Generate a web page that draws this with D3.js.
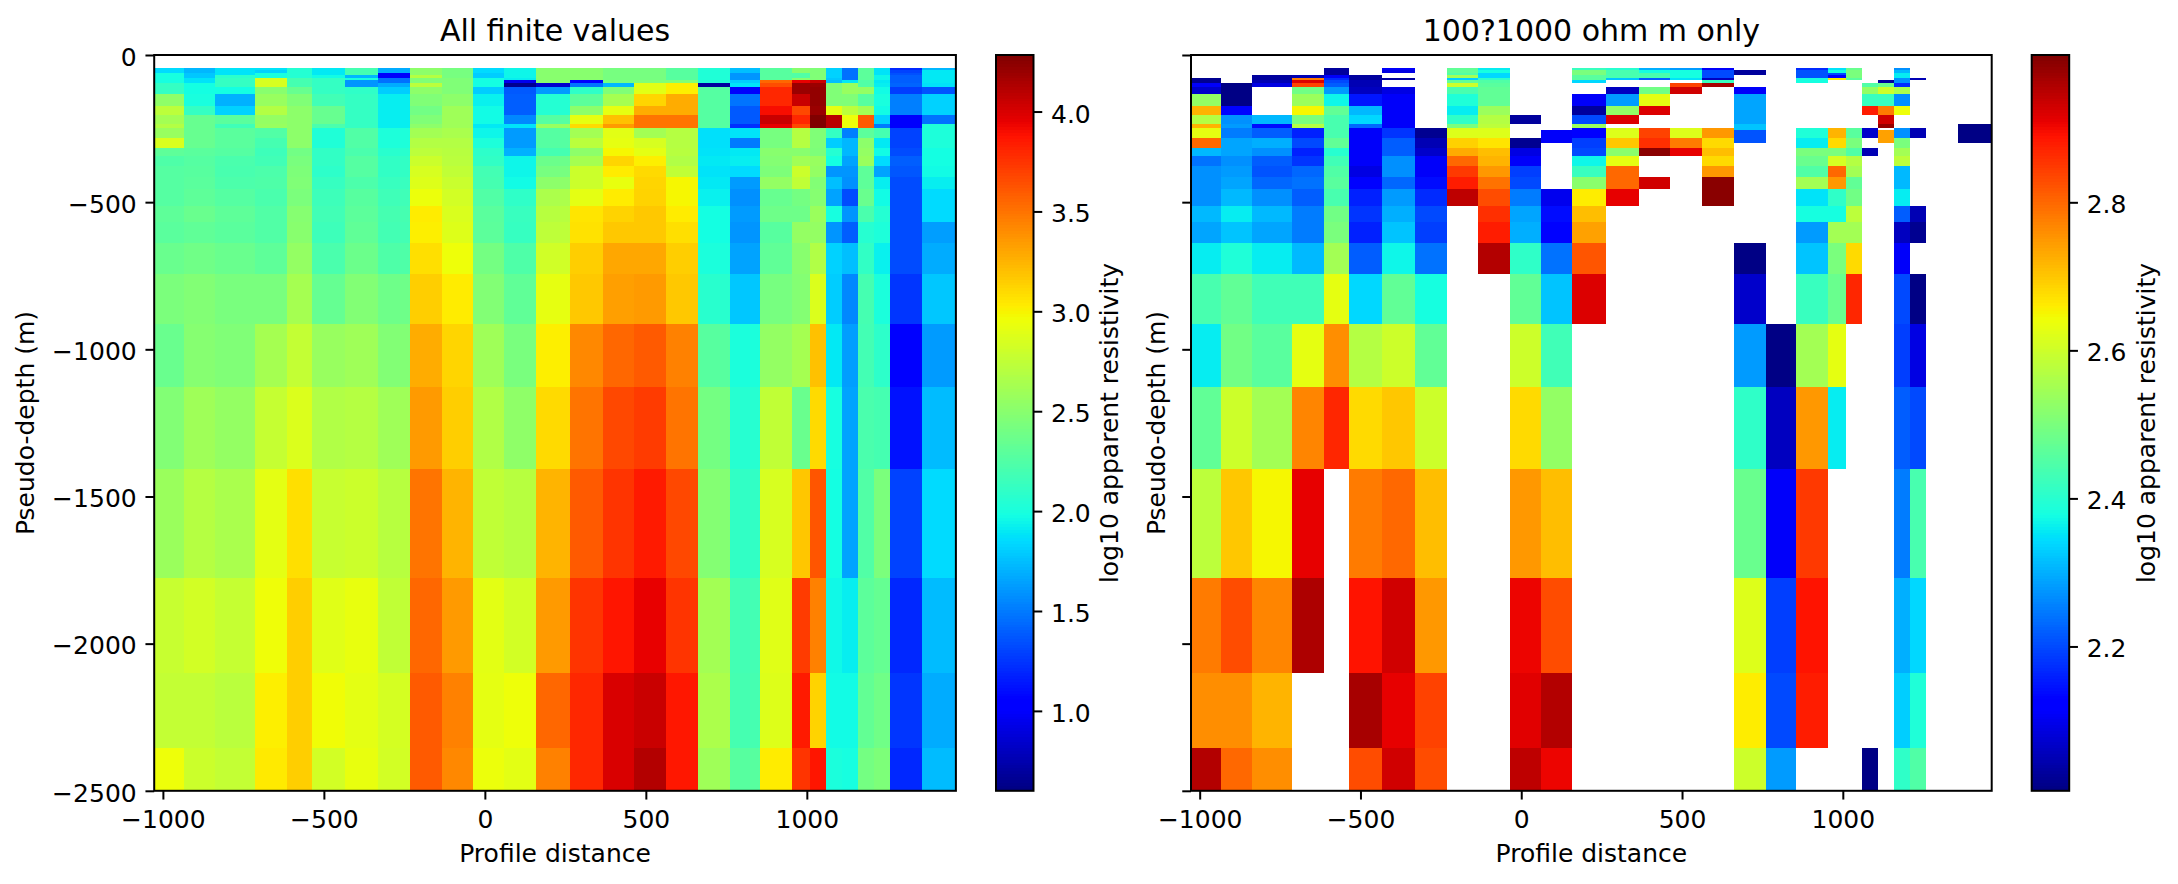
<!DOCTYPE html>
<html>
<head>
<meta charset="utf-8">
<script src="https://cdn.jsdelivr.net/npm/d3@7"></script>
<style>
body { margin: 0; background: #fff; }
text { font-family: "DejaVu Sans", sans-serif; fill: #000; }
</style>
</head>
<body>
<div id="chart"></div>
<script>
const width = 2178;
const height = 884;
const _ = null;

const xEdges = [-1027, -934, -837, -713, -614, -537, -434, -331, -232, -133, -36, 60, 159, 265, 367, 463, 563, 662, 762, 855, 954, 1010, 1060, 1109, 1159, 1209, 1259, 1358, 1463];
const depthEdges = [-44, -51, -61, -68, -78, -85, -95, -109, -133, -173, -204, -234, -248, -255, -282, -299, -316, -343, -377, -415, -455, -513, -567, -639, -744, -914, -1128, -1407, -1777, -2100, -2355, -2500];

const xTicks = [-1000, -500, 0, 500, 1000];
const yTicks = [0, -500, -1000, -1500, -2000, -2500];
const cbarTicksAll = [1, 1.5, 2, 2.5, 3, 3.5, 4];
const cbarTicksBand = [2.2, 2.4, 2.6, 2.8];

const rangeAll = [0.6, 4.283];
const rangeBand = [2.005, 2.999];

// shallow part (16 rows), one list per profile column, left panel
const topAll = [
    [1.85,1.85,1.99,1.99,1.99,1.99,2.12,2.12,2.53,2.73,2.62,2.69,2.57,2.57,2.86,2.86],
    [1.72,1.72,1.78,1.78,1.88,1.88,1.98,1.98,2.0,2.12,2.35,2.35,2.35,2.35,2.35,2.35],
    [1.88,1.88,1.88,2.08,2.12,2.12,2.12,1.98,1.7,1.82,2.29,2.17,2.29,2.29,2.29,2.29],
    [1.88,1.82,2.0,2.0,2.85,2.85,2.85,2.5,2.57,2.69,2.55,2.57,2.25,2.25,2.2,2.2],
    [2.05,2.05,2.05,2.05,2.2,2.2,2.2,2.35,2.46,2.52,2.52,2.52,2.52,2.52,2.52,2.52],
    [1.9,1.9,1.9,1.97,2.12,2.12,2.12,2.12,2.18,2.35,2.35,2.22,2.03,2.03,2.03,2.03],
    [2.2,2.2,2.2,1.72,2.0,1.6,1.6,2.1,2.12,2.12,2.12,2.12,2.25,2.25,2.25,2.25],
    [1.68,1.68,1.0,1.0,1.47,1.47,1.68,1.8,1.92,1.92,1.92,1.92,2.02,2.02,2.02,2.02],
    [2.52,2.52,2.52,2.7,2.46,2.46,2.73,2.52,2.46,2.4,2.46,2.52,2.62,2.62,2.69,2.69],
    [2.42,2.42,2.42,2.42,2.46,2.46,2.46,2.46,2.52,2.6,2.6,2.6,2.65,2.65,2.69,2.69],
    [1.85,1.85,1.8,1.8,1.98,1.98,1.98,1.8,1.93,1.97,1.97,1.9,1.95,1.95,2.02,2.02],
    [1.95,1.95,1.95,1.95,1.92,0.95,0.65,1.38,1.4,1.4,1.55,1.88,1.62,1.62,1.62,1.62],
    [2.5,2.5,2.5,2.5,2.5,2.5,0.85,1.62,2.05,2.05,2.27,2.57,2.27,2.27,2.27,2.27],
    [2.5,2.5,2.5,2.5,2.5,1.02,1.48,2.1,2.3,2.52,2.92,3.1,2.62,2.62,2.72,2.72],
    [2.42,2.42,2.42,2.42,2.42,2.42,1.72,2.46,2.63,2.92,3.2,3.35,2.9,2.9,2.92,2.92],
    [2.42,2.42,2.42,2.42,2.42,2.46,2.9,2.9,3.12,3.28,3.5,3.5,2.62,2.62,2.85,2.85],
    [2.28,2.28,2.28,2.28,2.28,2.46,3.02,3.02,3.28,3.28,3.5,3.5,2.7,2.7,2.7,2.7],
    [2.03,2.03,2.03,2.03,2.03,2.03,0.7,2.27,2.27,2.27,2.27,2.27,1.87,1.87,1.87,1.87],
    [1.75,1.75,1.6,1.6,1.6,1.8,1.88,1.0,1.48,1.38,1.38,1.23,1.88,1.88,1.5,1.5],
    [2.28,2.28,2.28,2.28,2.28,3.55,3.65,3.8,3.8,3.9,4.05,3.95,2.42,2.42,2.42,2.42],
    [2.5,2.5,2.25,2.25,2.5,3.95,4.2,4.2,4.05,3.67,3.8,3.67,2.7,2.7,2.7,2.7],
    [2.46,2.46,2.46,2.46,2.46,4.05,4.2,4.22,4.22,4.2,4.28,4.28,2.46,2.46,2.46,2.46],
    [1.82,1.82,1.82,1.82,1.78,1.75,2.46,2.46,2.46,2.92,4.1,4.1,2.12,2.12,1.8,1.8],
    [1.47,1.47,1.47,1.47,1.47,1.9,2.57,2.57,2.46,2.73,2.95,2.95,1.52,1.52,1.72,1.72],
    [2.3,2.3,2.3,2.3,2.3,2.25,2.25,2.55,2.28,2.62,3.6,3.6,2.3,2.3,2.52,2.52],
    [1.88,1.88,1.88,1.95,1.95,1.9,1.92,1.97,2.0,1.97,1.82,1.5,2.2,2.2,1.9,1.9],
    [1.2,1.3,1.35,1.4,1.4,1.4,1.42,1.28,1.52,1.52,1.0,1.0,1.3,1.3,1.3,1.3],
    [1.72,1.9,1.9,1.9,1.9,1.9,1.88,1.36,1.82,1.82,1.47,2.03,2.02,2.02,2.02,2.02]
];

// same 16 rows, right panel (blank cells are null)
const topBand = [
    [_,_,_,_,2.02,2.02,2.11,2.07,2.53,2.72,2.57,2.72,2.63,2.63,2.8,2.8],
    [_,_,_,_,_,_,2.01,2.01,2.01,2.13,2.27,2.28,2.25,2.25,2.29,2.29],
    [_,_,_,2.03,2.03,2.05,2.09,_,_,_,2.31,2.14,2.22,2.22,2.3,2.3],
    [_,_,_,2.05,2.78,2.92,2.84,2.49,2.54,2.65,2.5,2.57,2.16,2.16,2.2,2.2],
    [2.03,2.03,2.03,2.11,2.17,2.2,2.22,2.28,2.37,2.47,2.44,2.44,2.44,2.44,2.47,2.47],
    [_,_,_,2.03,2.03,2.05,2.05,2.06,2.15,2.31,2.34,2.23,2.11,2.11,2.11,2.11],
    [2.11,2.09,_,_,2.03,_,_,2.09,2.11,2.11,2.11,2.11,2.18,2.18,2.22,2.22],
    [_,_,_,_,_,_,_,_,_,_,_,_,2.02,2.02,2.05,2.05],
    [2.47,2.47,2.45,2.55,2.33,2.47,2.6,2.44,2.39,2.36,2.41,2.5,2.62,2.62,2.69,2.69],
    [2.36,2.38,2.34,2.34,2.41,2.45,2.46,2.47,2.47,2.54,2.57,2.58,2.62,2.62,2.67,2.67],
    [_,_,_,_,_,_,_,_,_,_,2.03,_,_,_,2.02,2.02],
    [_,_,_,_,_,_,_,_,_,_,_,_,_,2.11,2.11,_],
    [2.42,2.5,2.5,2.46,2.46,2.34,_,_,2.11,2.03,2.2,2.54,2.12,2.12,2.19,2.19],
    [2.4,2.44,2.44,2.44,2.32,_,_,2.06,2.28,2.53,2.92,_,2.62,2.62,2.7,2.7],
    [2.3,2.38,2.44,2.44,2.22,_,_,2.49,2.63,2.92,_,_,2.84,2.84,2.86,2.86],
    [2.28,2.38,2.38,2.38,2.35,_,2.84,2.93,_,_,_,_,2.62,2.62,2.78,2.78],
    [2.11,2.2,2.2,2.2,2.06,2.42,2.965,_,_,_,_,_,2.75,2.75,2.68,2.68],
    [_,2.03,2.03,_,_,_,_,2.11,2.29,2.29,2.29,2.32,2.32,2.21,2.21,_],
    [_,_,_,_,_,_,_,_,_,_,_,_,_,_,_,_],
    [2.17,2.21,2.21,2.21,2.38,2.38,_,_,_,_,_,_,2.39,2.39,2.36,2.36],
    [2.35,2.38,2.2,2.13,2.66,_,_,_,_,_,_,_,2.72,2.72,2.68,2.68],
    [2.48,2.5,2.5,2.5,2.46,_,_,_,_,_,_,_,2.46,2.46,2.5,2.5],
    [_,_,_,_,_,_,2.45,2.53,2.42,2.88,_,_,2.07,2.07,_,_],
    [_,_,_,_,_,2.03,2.48,2.6,2.42,2.78,2.93,2.98,_,2.74,2.74,_],
    [2.27,2.31,2.36,2.36,2.27,2.27,2.17,2.56,2.27,2.64,_,_,2.27,2.27,2.5,2.5],
    [_,_,_,_,2.05,_,_,_,_,_,_,_,2.05,2.05,_,_],
    [_,_,_,_,_,_,_,_,_,_,_,_,_,_,_,_],
    [_,_,_,_,_,_,_,_,_,_,_,2.01,2.01,2.01,2.01,_]
];

// deeper rows, one list per depth row, shared by both panels
const deepRows = [
    [2.31,2.29,2.27,2.16,2.4,2.11,2.22,2.07,2.73,2.71,2.09,1.7,2.2,2.52,2.99,2.91,2.71,1.88,1.9,2.5,2.5,2.45,2.05,1.72,2.55,1.97,1.33,1.98],
    [2.24,2.27,2.22,2.18,2.43,2.11,2.27,2.11,2.8,2.72,2.11,1.95,2.37,2.63,3.12,3.02,2.68,1.9,1.92,2.48,2.61,2.57,1.98,1.65,2.58,1.85,1.4,1.98],
    [2.27,2.28,2.21,2.23,2.45,2.09,2.27,2.11,2.85,2.75,2.19,1.95,2.42,2.8,3.03,3.1,2.75,1.88,1.85,2.45,2.8,2.55,1.6,1.6,2.31,1.65,1.37,1.97],
    [2.27,2.29,2.23,2.24,2.46,2.13,2.23,2.14,2.88,2.79,2.2,1.97,2.52,2.8,2.93,3.12,2.99,1.9,1.62,2.55,2.75,2.47,1.75,1.58,2.31,1.92,1.33,1.92],
    [2.27,2.31,2.27,2.22,2.44,2.16,2.28,2.17,2.945,2.83,2.25,2.1,2.66,2.91,3.03,3.13,2.99,1.93,1.58,2.35,2.41,2.49,1.65,1.33,2.36,1.97,1.33,1.85],
    [2.31,2.36,2.31,2.25,2.49,2.18,2.3,2.2,3.03,2.86,2.29,2.14,2.71,3.06,3.13,3.17,3.03,1.98,1.62,2.38,2.38,2.58,1.99,1.6,2.22,2.05,1.33,1.85],
    [2.29,2.32,2.29,2.25,2.5,2.16,2.32,2.19,3.02,2.88,2.3,2.13,2.74,3.07,3.17,3.17,3.08,1.98,1.6,2.28,2.55,2.55,1.6,1.4,2.06,2.02,1.33,1.63],
    [2.36,2.39,2.36,2.31,2.55,2.22,2.37,2.24,3.08,2.955,2.41,2.24,2.82,3.15,3.3,3.3,3.15,2.01,1.65,2.32,2.5,2.68,1.82,1.75,2.11,1.93,1.33,1.68],
    [2.44,2.47,2.43,2.43,2.63,2.34,2.47,2.38,3.15,3.03,2.47,2.32,2.92,3.17,3.33,3.35,3.17,2.07,1.78,2.42,2.48,2.87,1.8,1.55,2.2,2.01,1.25,1.78],
    [2.36,2.49,2.46,2.63,2.76,2.57,2.6,2.47,3.28,3.12,2.6,2.43,3.02,3.42,3.55,3.6,3.45,2.28,2.01,2.55,2.63,3.2,1.9,1.63,2.19,2.09,1.05,1.62],
    [2.47,2.6,2.55,2.77,2.87,2.68,2.7,2.6,3.35,3.15,2.68,2.53,3.1,3.5,3.67,3.72,3.5,2.41,2.06,2.75,2.36,3.1,1.99,1.65,2.22,2.2,1.12,1.74],
    [2.58,2.7,2.65,2.91,3.08,2.78,2.8,2.71,3.5,3.25,2.75,2.71,3.25,3.6,3.75,3.85,3.67,2.48,2.11,2.85,3.18,3.62,1.98,1.65,2.25,2.44,1.3,1.85],
    [2.78,2.83,2.77,2.96,3.15,2.89,2.93,2.75,3.55,3.35,2.905,2.83,3.35,3.75,3.87,3.95,3.75,2.62,2.19,2.89,3.72,3.45,1.96,1.92,2.3,2.34,1.2,1.74],
    [2.76,2.76,2.72,3.02,3.15,2.965,2.91,2.84,3.6,3.45,2.915,2.955,3.55,3.8,4.0,4.05,3.86,2.66,2.2,2.88,3.85,3.13,1.97,1.97,2.33,2.39,1.25,1.68],
    [2.955,2.8,2.76,3.04,3.15,2.83,2.93,2.83,3.6,3.42,2.945,2.905,3.45,3.8,4.0,4.12,3.86,2.6,2.28,3.03,3.75,3.87,2.01,1.99,2.41,2.45,1.2,1.74]
];

const rowCount = depthEdges.length - 1;
const colCount = xEdges.length - 1;
const topRowCount = topAll[0].length;

// matplotlib jet segments
const jetR = d3.scaleLinear().domain([0, 0.35, 0.66, 0.89, 1]).range([0, 0, 1, 1, 0.5]);
const jetG = d3.scaleLinear().domain([0, 0.125, 0.375, 0.64, 0.91, 1]).range([0, 0, 1, 1, 0, 0]);
const jetB = d3.scaleLinear().domain([0, 0.11, 0.34, 0.65, 1]).range([0.5, 1, 1, 0, 0]);

function jet(t) {
    t = Math.max(0, Math.min(1, t));
    return d3.rgb(jetR(t) * 255, jetG(t) * 255, jetB(t) * 255).formatRgb();
}

function cellsFor(topRows, useFilter) {
    const cells = [];
    for (let r = 0; r < rowCount; r++) {
        for (let c = 0; c < colCount; c++) {
            let v = r < topRowCount ? topRows[c][r] : deepRows[r - topRowCount][c];
            if (v === null) continue;
            // second panel only keeps 100-1000 ohm m
            if (useFilter && (v < 2 || v > 3)) continue;
            cells.push({r: r, c: c, v: v});
        }
    }
    return cells;
}

const svg = d3.select("#chart").append("svg")
    .attr("width", width)
    .attr("height", height);

function drawPanel(opt) {
    const x = d3.scaleLinear().domain([xEdges[0], xEdges[colCount]]).range([opt.left, opt.right]);
    const y = d3.scaleLinear().domain([0, -2500]).range([55, 790.8]);
    const color = d3.scaleLinear().domain(opt.range).range([0, 1]);

    const g = svg.append("g");

    g.selectAll(".cell")
        .data(opt.cells)
        .join("rect")
        .attr("class", "cell")
        .attr("shape-rendering", "crispEdges")
        .attr("x", d => x(xEdges[d.c]))
        .attr("y", d => y(depthEdges[d.r]))
        .attr("width", d => x(xEdges[d.c + 1]) - x(xEdges[d.c]))
        .attr("height", d => y(depthEdges[d.r + 1]) - y(depthEdges[d.r]))
        .attr("fill", d => jet(color(d.v)));

    const xAxis = g.append("g")
        .attr("transform", `translate(0,${y(-2500)})`)
        .call(d3.axisBottom(x).tickValues(xTicks).tickSize(8.75).tickPadding(8.75).tickFormat(d3.format("d")));
    xAxis.selectAll("text").attr("y", 37).attr("dy", 0);

    const yAxis = g.append("g")
        .attr("transform", `translate(${opt.left},0)`)
        .call(d3.axisLeft(y).tickValues(yTicks).tickSize(8.75).tickPadding(8.75)
            .tickFormat(opt.showYLabels ? d3.format("d") : ""));
    yAxis.selectAll("text").attr("dy", "0.41em");

    for (const a of [xAxis, yAxis]) {
        a.select(".domain").remove();
        a.selectAll("line").attr("stroke", "#000").attr("stroke-width", 2);
        a.selectAll("text").style("font-size", "25px").attr("fill", "#000");
        a.attr("font-family", null).attr("font-size", null);
    }

    g.append("rect")
        .attr("x", opt.left)
        .attr("y", 55)
        .attr("width", opt.right - opt.left)
        .attr("height", y(-2500) - 55)
        .attr("fill", "none")
        .attr("stroke", "#000")
        .attr("stroke-width", 2);

    const mid = (opt.left + opt.right) / 2;
    g.append("text")
        .attr("x", mid).attr("y", 41)
        .attr("text-anchor", "middle")
        .style("font-size", "30px")
        .text(opt.title);

    g.append("text")
        .attr("x", mid).attr("y", 861.5)
        .attr("text-anchor", "middle")
        .style("font-size", "25px")
        .text("Profile distance");

    g.append("text")
        .attr("transform", `translate(${opt.yLabelX},423) rotate(-90)`)
        .attr("text-anchor", "middle")
        .style("font-size", "25px")
        .text("Pseudo-depth (m)");

    // colour bar
    const cb = svg.append("g");
    const cbY = d3.scaleLinear().domain(opt.range).range([790.8, 55]);
    const steps = d3.range(256);
    const stepH = (790.8 - 55) / 256;

    cb.selectAll(".step")
        .data(steps)
        .join("rect")
        .attr("class", "step")
        .attr("shape-rendering", "crispEdges")
        .attr("x", opt.cbLeft)
        .attr("width", opt.cbRight - opt.cbLeft)
        .attr("y", d => 790.8 - (d + 1) * stepH)
        .attr("height", stepH + 0.5)
        .attr("fill", d => jet((d + 0.5) / 256));

    const cbAxis = cb.append("g")
        .attr("transform", `translate(${opt.cbRight},0)`)
        .call(d3.axisRight(cbY).tickValues(opt.cbTicks).tickSize(8.75).tickPadding(8.75).tickFormat(d3.format(".1f")));
    cbAxis.select(".domain").remove();
    cbAxis.selectAll("line").attr("stroke", "#000").attr("stroke-width", 2);
    cbAxis.selectAll("text").attr("dy", "0.42em").style("font-size", "25px").attr("fill", "#000");
    cbAxis.attr("font-family", null).attr("font-size", null);

    cb.append("rect")
        .attr("x", opt.cbLeft)
        .attr("y", 55)
        .attr("width", opt.cbRight - opt.cbLeft)
        .attr("height", 790.8 - 55)
        .attr("fill", "none")
        .attr("stroke", "#000")
        .attr("stroke-width", 2);

    cb.append("text")
        .attr("transform", `translate(${opt.cbLabelX},423) rotate(-90)`)
        .attr("text-anchor", "middle")
        .style("font-size", "25px")
        .text("log10 apparent resistivity");
}

drawPanel({
    left: 154.2, right: 955.9,
    cells: cellsFor(topAll, false),
    range: rangeAll,
    title: "All finite values",
    showYLabels: true,
    yLabelX: 34,
    cbLeft: 996, cbRight: 1033.5,
    cbTicks: cbarTicksAll,
    cbLabelX: 1118
});

drawPanel({
    left: 1191, right: 1991.7,
    cells: cellsFor(topBand, true),
    range: rangeBand,
    title: "100?1000 ohm m only",
    showYLabels: false,
    yLabelX: 1165,
    cbLeft: 2031.7, cbRight: 2069.2,
    cbTicks: cbarTicksBand,
    cbLabelX: 2155
});
</script>
</body>
</html>
